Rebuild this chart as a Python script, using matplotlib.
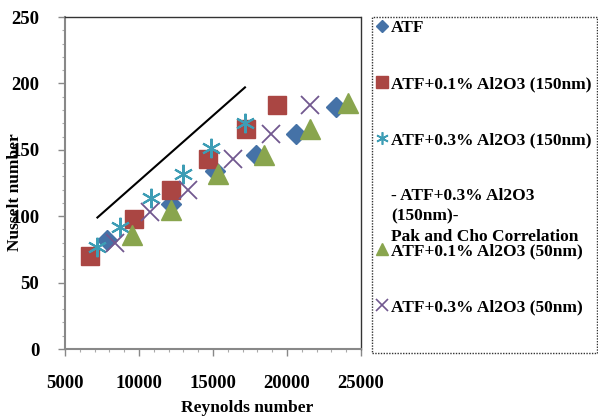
import numpy as np
import matplotlib
matplotlib.use("Agg")
import matplotlib.pyplot as plt
from matplotlib.lines import Line2D
from matplotlib.patches import Rectangle
from matplotlib.ticker import MultipleLocator

# Data
re_atf = [7860, 12160, 15130, 17900, 20610, 23310]
nu_atf = [82, 109, 134, 146, 162, 182]

re_01_150 = [6690, 9690, 12160, 14660, 17210, 19350]
nu_01_150 = [70, 98, 120, 143, 166, 184]

re_03_150 = [7190, 8740, 10790, 12950, 14870, 17160]
nu_03_150 = [77, 92, 114, 132, 151, 170]

re_pak = [7190, 17160]
nu_pak = [99, 197]

re_01_50 = [9500, 12140, 15360, 18470, 21550, 24140]
nu_01_50 = [86, 105, 132, 146, 166, 185]

re_03_50 = [8380, 10740, 13330, 16370, 18900, 21550]
nu_03_50 = [80, 103, 120, 143, 162, 184]

labels = ["ATF",
          "ATF+0.1% Al2O3 (150nm)",
          "ATF+0.3% Al2O3 (150nm)",
          "- ATF+0.3% Al2O3\n(150nm)-\nPak and Cho Correlation",
          "ATF+0.1% Al2O3 (50nm)",
          "ATF+0.3% Al2O3 (50nm)"]

c_blue = "#4572A7"
c_red = "#AA4643"
c_cyan = "#3D9DB5"
c_green = "#89A54E"
c_purple = "#71588F"
asterisk = (6, 2, 0)

plt.rcParams['font.family'] = ['Liberation Serif', 'DejaVu Serif']
plt.rcParams['font.weight'] = 'bold'

W, H = 598, 418
fig = plt.figure(figsize=(W / 100, H / 100), dpi=100)
ax = fig.add_axes([65 / W, (H - 349) / H, 296 / W, 332 / H])

ax.plot(re_pak, nu_pak, color="black", lw=1.5)
ax.plot(re_atf, nu_atf, ls="none", marker="D", ms=10.5, color=c_blue)
ax.plot(re_01_150, nu_01_150, ls="none", marker="s", ms=13, color=c_red)
ax.plot(re_03_150, nu_03_150, ls="none", marker=asterisk, ms=14, mew=1.5, color=c_cyan)
ax.plot(re_01_50, nu_01_50, ls="none", marker="^", ms=14, color=c_green)
ax.plot(re_03_50, nu_03_50, ls="none", marker="x", ms=13, mew=1.3, color=c_purple)

ax.set_xlim(5000, 25000)
ax.set_ylim(0, 250)
ax.set_xticks(np.arange(5000, 25001, 5000))
ax.set_yticks(np.arange(0, 251, 50))
ax.xaxis.set_minor_locator(MultipleLocator(1000))
ax.yaxis.set_minor_locator(MultipleLocator(10))
ax.tick_params(direction="out", length=5, width=1, color="#888888",
               labelsize=13.5)
ax.tick_params(which="minor", direction="out", length=2.5, width=0.8,
               color="#aaaaaa")
ax.tick_params(axis="y", pad=13.5)
ax.tick_params(axis="x", pad=14)
for s in ["left", "bottom"]:
    ax.spines[s].set_color("#888888")
    ax.spines[s].set_linewidth(1.5)
for s in ["top", "right"]:
    ax.spines[s].set_color("#333333")
    ax.spines[s].set_linestyle((0, (1, 1)))
    ax.spines[s].set_linewidth(1)

fig.text(247 / W, 1 - 408 / H, "Reynolds number", ha="center", va="center",
         fontsize=12.5, fontweight="bold")
fig.text(15 / W, 1 - 192 / H, "Nusselt number", ha="center", va="center",
         rotation=90, fontsize=12.5, fontweight="bold")

# legend frame
fig.patches.append(Rectangle((372 / W, 1 - 353 / H), 225 / W, 336 / H,
                             transform=fig.transFigure, fill=False,
                             edgecolor="#333333", lw=1, ls=(0, (1, 1))))

h_atf = Line2D([], [], ls="none", marker="D", ms=6, color=c_blue)
h_sq = Line2D([], [], ls="none", marker="s", ms=8, color=c_red)
h_ast = Line2D([], [], ls="none", marker=asterisk, ms=9, mew=1.2, color=c_cyan)
h_pak = Line2D([], [], ls="none", marker="none")
h_tri = Line2D([], [], ls="none", marker="^", ms=9, color=c_green)
h_x = Line2D([], [], ls="none", marker="x", ms=8, mew=1.2, color=c_purple)

kw = dict(frameon=False, fontsize=12.5, handlelength=0.7, handletextpad=0.15,
          borderpad=0, borderaxespad=0, labelspacing=2.3, loc="upper left")
leg1 = fig.legend([h_atf, h_sq, h_ast, h_pak], labels[:4],
                  bbox_to_anchor=(376 / W, 1 - 20 / H), **kw)
for t in leg1.get_texts():
    t.set_linespacing(1.35)
leg2 = fig.legend([h_tri, h_x], labels[4:],
                  bbox_to_anchor=(376 / W, 1 - 243 / H), **kw)

fig.savefig("out.png", dpi=100)
